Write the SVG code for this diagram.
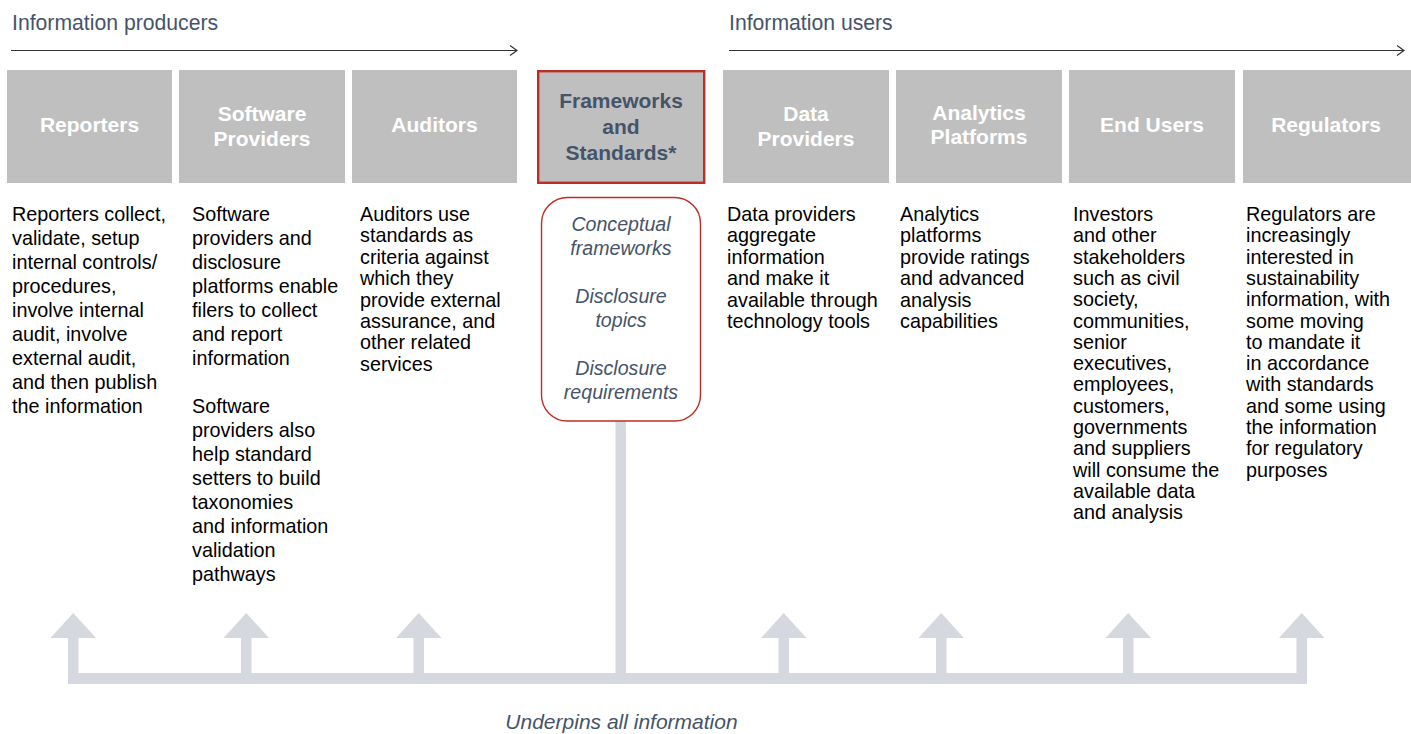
<svg xmlns="http://www.w3.org/2000/svg" width="1411" height="734" viewBox="0 0 1411 734">
<defs>
<style>
.hdr{font-family:"Liberation Sans",Arial,sans-serif;font-size:21.2px;fill:#44546A}
.box{fill:#BFBFBF}
.lbl{font-family:"Liberation Sans",Arial,sans-serif;font-size:21px;font-weight:bold;fill:#FFFFFF;text-anchor:middle}
.fw{font-family:"Liberation Sans",Arial,sans-serif;font-size:21px;font-weight:bold;fill:#44546A;text-anchor:middle}
.it{font-family:"Liberation Sans",Arial,sans-serif;font-size:19.6px;font-style:italic;fill:#44546A;text-anchor:middle}
.body{font-family:"Liberation Sans",Arial,sans-serif;font-size:19.8px;fill:#000000}
.conn{fill:#D5D8DF}
</style>
<marker id="open" markerWidth="10" markerHeight="12" refX="8" refY="6" orient="auto" markerUnits="userSpaceOnUse">
<path d="M1,1 L8,6 L1,11" fill="none" stroke="#333333" stroke-width="1.2"/>
</marker>
</defs>

<g id="header-producers">
<text class="hdr" x="12" y="30">Information producers</text>
<line x1="11" y1="50.5" x2="517" y2="50.5" stroke="#333333" stroke-width="1.2" marker-end="url(#open)"/>
</g>
<g id="header-users">
<text class="hdr" x="729" y="30">Information users</text>
<line x1="729" y1="50.5" x2="1404" y2="50.5" stroke="#333333" stroke-width="1.2" marker-end="url(#open)"/>
</g>

<g id="connectors">
<rect class="conn" x="615.5" y="421" width="10.5" height="258"/>
<rect class="conn" x="68" y="673" width="1239" height="11"/>
<g>
<rect class="conn" x="68" y="636" width="10.5" height="40"/>
<polygon class="conn" points="73.2,613 96,638 50.5,638"/>
<rect class="conn" x="241" y="636" width="10.5" height="40"/>
<polygon class="conn" points="246.2,613 269,638 223.5,638"/>
<rect class="conn" x="413.5" y="636" width="10.5" height="40"/>
<polygon class="conn" points="418.7,613 441.5,638 396,638"/>
<rect class="conn" x="778.5" y="636" width="10.5" height="40"/>
<polygon class="conn" points="783.7,613 806.5,638 761,638"/>
<rect class="conn" x="936" y="636" width="10.5" height="40"/>
<polygon class="conn" points="941.2,613 964,638 918.5,638"/>
<rect class="conn" x="1123" y="636" width="10.5" height="40"/>
<polygon class="conn" points="1128.2,613 1151,638 1105.5,638"/>
<rect class="conn" x="1296.5" y="636" width="10.5" height="40"/>
<polygon class="conn" points="1301.7,613 1324.5,638 1279,638"/>
</g>
</g>

<g id="reporters">
<rect class="box" x="7" y="70" width="165" height="113"/>
<text class="lbl" x="89.5" y="132">Reporters</text>
<text class="body" x="12" y="221">
<tspan x="12" dy="0">Reporters collect,</tspan>
<tspan x="12" dy="24">validate, setup</tspan>
<tspan x="12" dy="24">internal controls/</tspan>
<tspan x="12" dy="24">procedures,</tspan>
<tspan x="12" dy="24">involve internal</tspan>
<tspan x="12" dy="24">audit, involve</tspan>
<tspan x="12" dy="24">external audit,</tspan>
<tspan x="12" dy="24">and then publish</tspan>
<tspan x="12" dy="24">the information</tspan>
</text>
</g>

<g id="software-providers">
<rect class="box" x="179" y="70" width="166" height="113"/>
<text class="lbl" x="262" y="121">Software</text>
<text class="lbl" x="262" y="146">Providers</text>
<text class="body" x="192" y="221">
<tspan x="192" dy="0">Software</tspan>
<tspan x="192" dy="24">providers and</tspan>
<tspan x="192" dy="24">disclosure</tspan>
<tspan x="192" dy="24">platforms enable</tspan>
<tspan x="192" dy="24">filers to collect</tspan>
<tspan x="192" dy="24">and report</tspan>
<tspan x="192" dy="24">information</tspan>
<tspan x="192" dy="48">Software</tspan>
<tspan x="192" dy="24">providers also</tspan>
<tspan x="192" dy="24">help standard</tspan>
<tspan x="192" dy="24">setters to build</tspan>
<tspan x="192" dy="24">taxonomies</tspan>
<tspan x="192" dy="24">and information</tspan>
<tspan x="192" dy="24">validation</tspan>
<tspan x="192" dy="24">pathways</tspan>
</text>
</g>

<g id="auditors">
<rect class="box" x="352" y="70" width="165" height="113"/>
<text class="lbl" x="434.5" y="132">Auditors</text>
<text class="body" x="360" y="221">
<tspan x="360" dy="0">Auditors use</tspan>
<tspan x="360" dy="21.4">standards as</tspan>
<tspan x="360" dy="21.4">criteria against</tspan>
<tspan x="360" dy="21.4">which they</tspan>
<tspan x="360" dy="21.4">provide external</tspan>
<tspan x="360" dy="21.4">assurance, and</tspan>
<tspan x="360" dy="21.4">other related</tspan>
<tspan x="360" dy="21.4">services</tspan>
</text>
</g>

<g id="frameworks">
<rect x="538.2" y="71.2" width="166" height="111.6" fill="#BFBFBF" stroke="#BE2D24" stroke-width="2.4"/>
<text class="fw" x="621" y="108">Frameworks</text>
<text class="fw" x="621" y="134">and</text>
<text class="fw" x="621" y="160">Standards*</text>
</g>

<g id="framework-contents">
<rect x="541.5" y="197.5" width="159" height="223.5" rx="26" ry="26" fill="#FFFFFF" stroke="#BE2D24" stroke-width="1.4"/>
<text class="it" x="621" y="231">Conceptual</text>
<text class="it" x="621" y="255">frameworks</text>
<text class="it" x="621" y="303">Disclosure</text>
<text class="it" x="621" y="327">topics</text>
<text class="it" x="621" y="375">Disclosure</text>
<text class="it" x="621" y="399">requirements</text>
</g>

<g id="data-providers">
<rect class="box" x="723" y="70" width="166" height="113"/>
<text class="lbl" x="806" y="121">Data</text>
<text class="lbl" x="806" y="146">Providers</text>
<text class="body" x="727" y="221">
<tspan x="727" dy="0">Data providers</tspan>
<tspan x="727" dy="21.4">aggregate</tspan>
<tspan x="727" dy="21.4">information</tspan>
<tspan x="727" dy="21.4">and make it</tspan>
<tspan x="727" dy="21.4">available through</tspan>
<tspan x="727" dy="21.4">technology tools</tspan>
</text>
</g>

<g id="analytics-platforms">
<rect class="box" x="896" y="70" width="166" height="113"/>
<text class="lbl" x="979" y="120">Analytics</text>
<text class="lbl" x="979" y="144">Platforms</text>
<text class="body" x="900" y="221">
<tspan x="900" dy="0">Analytics</tspan>
<tspan x="900" dy="21.4">platforms</tspan>
<tspan x="900" dy="21.4">provide ratings</tspan>
<tspan x="900" dy="21.4">and advanced</tspan>
<tspan x="900" dy="21.4">analysis</tspan>
<tspan x="900" dy="21.4">capabilities</tspan>
</text>
</g>

<g id="end-users">
<rect class="box" x="1069" y="70" width="166" height="113"/>
<text class="lbl" x="1152" y="132">End Users</text>
<text class="body" x="1073" y="221">
<tspan x="1073" dy="0">Investors</tspan>
<tspan x="1073" dy="21.3">and other</tspan>
<tspan x="1073" dy="21.3">stakeholders</tspan>
<tspan x="1073" dy="21.3">such as civil</tspan>
<tspan x="1073" dy="21.3">society,</tspan>
<tspan x="1073" dy="21.3">communities,</tspan>
<tspan x="1073" dy="21.3">senior</tspan>
<tspan x="1073" dy="21.3">executives,</tspan>
<tspan x="1073" dy="21.3">employees,</tspan>
<tspan x="1073" dy="21.3">customers,</tspan>
<tspan x="1073" dy="21.3">governments</tspan>
<tspan x="1073" dy="21.3">and suppliers</tspan>
<tspan x="1073" dy="21.3">will consume the</tspan>
<tspan x="1073" dy="21.3">available data</tspan>
<tspan x="1073" dy="21.3">and analysis</tspan>
</text>
</g>

<g id="regulators">
<rect class="box" x="1243" y="70" width="168" height="113"/>
<text class="lbl" x="1326" y="132">Regulators</text>
<text class="body" x="1246" y="221">
<tspan x="1246" dy="0">Regulators are</tspan>
<tspan x="1246" dy="21.3">increasingly</tspan>
<tspan x="1246" dy="21.3">interested in</tspan>
<tspan x="1246" dy="21.3">sustainability</tspan>
<tspan x="1246" dy="21.3">information, with</tspan>
<tspan x="1246" dy="21.3">some moving</tspan>
<tspan x="1246" dy="21.3">to mandate it</tspan>
<tspan x="1246" dy="21.3">in accordance</tspan>
<tspan x="1246" dy="21.3">with standards</tspan>
<tspan x="1246" dy="21.3">and some using</tspan>
<tspan x="1246" dy="21.3">the information</tspan>
<tspan x="1246" dy="21.3">for regulatory</tspan>
<tspan x="1246" dy="21.3">purposes</tspan>
</text>
</g>

<g id="footer">
<text class="it" x="621.5" y="729" style="font-size:21px">Underpins all information</text>
</g>
</svg>
